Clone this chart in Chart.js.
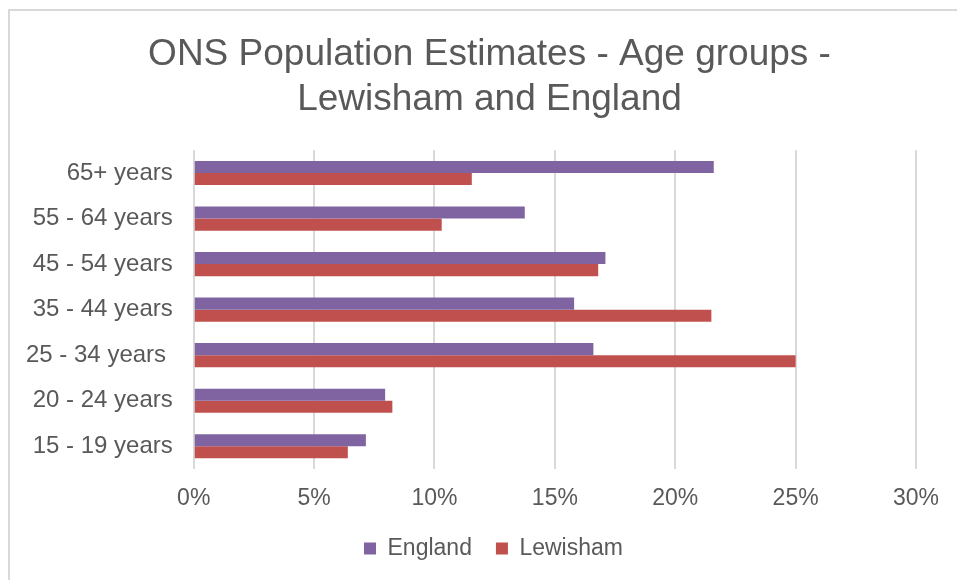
<!DOCTYPE html>
<html lang="en">
<head>
    <meta charset="UTF-8">
    <title>ONS Population Estimates - Age groups</title>
    <script src="https://cdn.jsdelivr.net/npm/chart.js"></script>
    <style>
        body {
            margin: 0;
            padding: 0;
            background-color: #ffffff;
            overflow: hidden;
        }
        .frame {
            position: absolute;
            left: 8px;
            top: 9px;
            width: 960px;
            height: 600px;
            border-top: 2px solid #d9d9d9;
            border-left: 2px solid #d9d9d9;
        }
        .chart-container {
            position: absolute;
            left: 0;
            top: 0;
            width: 957px;
            height: 580px;
        }
    </style>
</head>
<body>
    <div class="frame"></div>
    <div class="chart-container">
        <canvas id="ageChart"></canvas>
    </div>

    <script>
        const ageGroups = ['65+ years', '55 - 64 years', '45 - 54 years', '35 - 44 years', '25 - 34 years ', '20 - 24 years', '15 - 19 years'];
        const englandValues = [21.6, 13.75, 17.1, 15.8, 16.6, 7.95, 7.15];
        const lewishamValues = [11.55, 10.3, 16.8, 21.5, 25.0, 8.25, 6.4];
        const xTicks = [0, 5, 10, 15, 20, 25, 30];

        const textColor = '#595959';
        const fontFamily = '"Liberation Sans", Arial, sans-serif';

        // the original chart is cropped on the right, so title and legend
        // sit to the right of the canvas centre; nudge them over after layout
        const shiftBoxes = {
            id: 'shiftBoxes',
            afterLayout(chart) {
                chart.titleBlock.left += 29;
                chart.titleBlock.right += 29;
                chart.legend.left += 33;
                chart.legend.right += 33;
            }
        };

        const ctx = document.getElementById('ageChart').getContext('2d');

        const ageChart = new Chart(ctx, {
            type: 'bar',
            data: {
                labels: ageGroups,
                datasets: [
                    {
                        label: 'England',
                        data: englandValues,
                        backgroundColor: '#8064a2'
                    },
                    {
                        label: 'Lewisham',
                        data: lewishamValues,
                        backgroundColor: '#c0504d'
                    }
                ]
            },
            plugins: [shiftBoxes],
            options: {
                indexAxis: 'y',
                responsive: true,
                maintainAspectRatio: false,
                animation: false,
                categoryPercentage: 0.53,
                barPercentage: 1.0,
                layout: {
                    padding: { left: 5, right: 41, top: 32, bottom: 10 }
                },
                plugins: {
                    title: {
                        display: true,
                        text: ['ONS Population Estimates - Age groups -', 'Lewisham and England'],
                        color: textColor,
                        font: { family: fontFamily, size: 37, weight: 'normal', lineHeight: 1.22 },
                        padding: { top: 0, bottom: 28 }
                    },
                    legend: {
                        position: 'bottom',
                        labels: {
                            color: textColor,
                            font: { family: fontFamily, size: 23 },
                            boxWidth: 12,
                            boxHeight: 12,
                            padding: 24
                        }
                    },
                    tooltip: { enabled: false }
                },
                scales: {
                    x: {
                        min: 0,
                        max: 30,
                        afterBuildTicks: function (axis) {
                            axis.ticks = xTicks.map(v => ({ value: v }));
                        },
                        afterFit: function (axis) {
                            axis.height = 44;
                        },
                        ticks: {
                            color: textColor,
                            font: { family: fontFamily, size: 23 },
                            padding: 16,
                            callback: function (value) { return value + '%'; }
                        },
                        grid: {
                            color: '#d9d9d9',
                            lineWidth: 2,
                            drawTicks: false
                        },
                        border: { display: false }
                    },
                    y: {
                        ticks: {
                            color: textColor,
                            font: { family: fontFamily, size: 24 },
                            padding: 21
                        },
                        grid: { display: false, drawTicks: false },
                        border: { display: false }
                    }
                }
            }
        });
    </script>
</body>
</html>
